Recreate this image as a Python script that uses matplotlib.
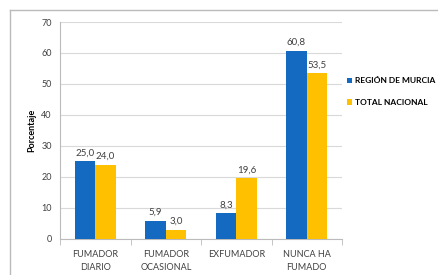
import matplotlib.pyplot as plt
import numpy as np
from matplotlib.lines import Line2D

plt.rcParams['font.family'] = ['Lato', 'DejaVu Sans']

categorias = ['FUMADOR\nDIARIO', 'FUMADOR\nOCASIONAL', 'EXFUMADOR', 'NUNCA HA\nFUMADO']
murcia = [25.0, 5.9, 8.3, 60.8]
nacional = [24.0, 3.0, 19.6, 53.5]
series = ['REGIÓN DE MURCIA', 'TOTAL NACIONAL']
colores = ['#1469C0', '#FFC000']

fig = plt.figure(figsize=(4.39, 2.75), dpi=100)
ax = fig.add_axes([0.137, 0.131, 0.642, 0.789])

# outer chart frame (left and top edges visible)
fig.add_artist(Line2D([0.023, 0.023], [0.0, 0.962], transform=fig.transFigure, color='#BBBBBB', lw=1))
fig.add_artist(Line2D([0.023, 1.0], [0.962, 0.962], transform=fig.transFigure, color='#BBBBBB', lw=1))

x = np.arange(len(categorias))
w = 0.29
b1 = ax.bar(x - w / 2, murcia, w, color=colores[0], label=series[0], zorder=3)
b2 = ax.bar(x + w / 2, nacional, w, color=colores[1], label=series[1], zorder=3)

for bars, vals in ((b1, murcia), (b2, nacional)):
    for r, v in zip(bars, vals):
        ax.text(r.get_x() + r.get_width() / 2, v + 1.2, f'{v:.1f}'.replace('.', ','),
                ha='center', va='bottom', fontsize=7, color='#404040')

ax.set_ylim(0, 70)
ax.set_xlim(-0.5, 3.5)
ax.set_yticks(range(0, 71, 10))
ax.yaxis.grid(True, color='#D9D9D9', lw=0.8, zorder=0)
ax.tick_params(axis='y', length=0, labelsize=6.5, labelcolor='#404040', pad=6)
ax.set_xticks(x)
ax.set_xticklabels(categorias, fontsize=6.5, color='#404040', linespacing=1.6)
ax.set_xticks(np.arange(-0.5, 4.0, 1.0), minor=True)
ax.tick_params(axis='x', which='major', length=0, pad=8)
ax.tick_params(axis='x', which='minor', length=4, color='#BBBBBB')
for s in ('top', 'right'):
    ax.spines[s].set_visible(False)
ax.spines['left'].set_color('#BBBBBB')
ax.spines['bottom'].set_color('#BBBBBB')
ax.set_ylabel('Porcentaje', fontsize=6.5, fontweight='bold', labelpad=4)

ax.legend(loc='center left', bbox_to_anchor=(0.99, 0.68), frameon=False,
          prop={'size': 6, 'weight': 'bold'}, handlelength=0.7, handleheight=0.7,
          handletextpad=0.3, labelspacing=1.7)

fig.savefig('out.png', dpi=100)
